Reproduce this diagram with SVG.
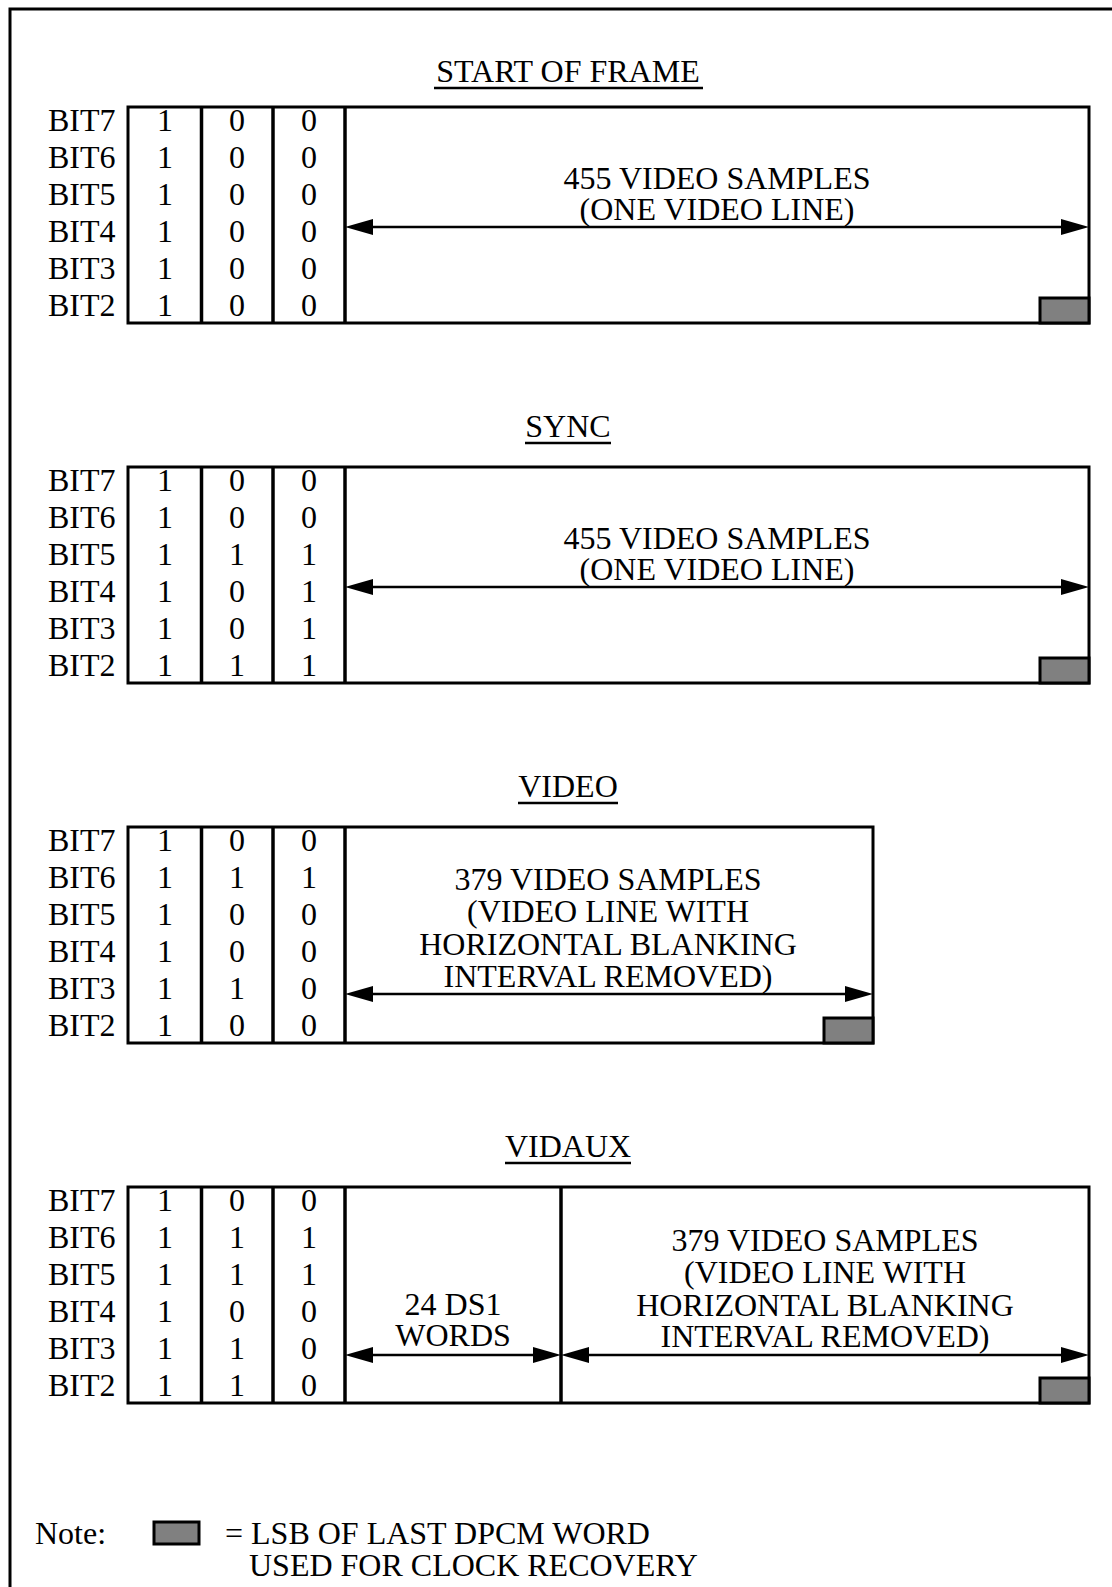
<svg xmlns="http://www.w3.org/2000/svg" width="1112" height="1587" viewBox="0 0 1112 1587">
<style>
text{font-family:"Liberation Serif","Times New Roman",serif;font-size:32px;fill:#000}
.c{text-anchor:middle}
.frame{fill:none;stroke:#000;stroke-width:3}
.sep{stroke:#000;stroke-width:3.5}
.ul{stroke:#000;stroke-width:2.5}
.lsb{fill:#808080;stroke:#000;stroke-width:3}
.arr{stroke:#000;stroke-width:2.5;fill:none;marker-start:url(#ah);marker-end:url(#ah)}
</style>
<defs>
<marker id="ah" markerUnits="userSpaceOnUse" markerWidth="28" markerHeight="16" refX="18" refY="8" orient="auto-start-reverse" viewBox="0 0 28 16"><path d="M0,0 L28,8 L0,16 z" fill="#000"/></marker>
</defs>
<rect width="1112" height="1587" fill="#fff"/>
<path d="M10,1587 V9 H1112" fill="none" stroke="#000" stroke-width="3"/>

<g id="sof">
<text class="c" x="568" y="82">START OF FRAME</text>
<line class="ul" x1="434" y1="88" x2="703" y2="88"/>
<text x="48" y="131">BIT7</text><text x="48" y="168">BIT6</text><text x="48" y="205">BIT5</text><text x="48" y="242">BIT4</text><text x="48" y="279">BIT3</text><text x="48" y="316">BIT2</text>
<rect class="frame" x="128" y="107" width="961" height="216"/>
<line class="sep" x1="201.5" y1="107" x2="201.5" y2="323"/>
<line class="sep" x1="273" y1="107" x2="273" y2="323"/>
<line class="sep" x1="345" y1="107" x2="345" y2="323"/>
<g class="c">
<text x="165" y="131">1</text><text x="237" y="131">0</text><text x="309" y="131">0</text>
<text x="165" y="168">1</text><text x="237" y="168">0</text><text x="309" y="168">0</text>
<text x="165" y="205">1</text><text x="237" y="205">0</text><text x="309" y="205">0</text>
<text x="165" y="242">1</text><text x="237" y="242">0</text><text x="309" y="242">0</text>
<text x="165" y="279">1</text><text x="237" y="279">0</text><text x="309" y="279">0</text>
<text x="165" y="316">1</text><text x="237" y="316">0</text><text x="309" y="316">0</text>
<text x="717" y="189">455 VIDEO SAMPLES</text>
<text x="717" y="220">(ONE VIDEO LINE)</text>
</g>
<rect class="lsb" x="1040" y="298" width="49" height="25"/>
</g>

<g id="sync">
<text class="c" x="568" y="437">SYNC</text>
<line class="ul" x1="525" y1="443" x2="611" y2="443"/>
<text x="48" y="491">BIT7</text><text x="48" y="528">BIT6</text><text x="48" y="565">BIT5</text><text x="48" y="602">BIT4</text><text x="48" y="639">BIT3</text><text x="48" y="676">BIT2</text>
<rect class="frame" x="128" y="467" width="961" height="216"/>
<line class="sep" x1="201.5" y1="467" x2="201.5" y2="683"/>
<line class="sep" x1="273" y1="467" x2="273" y2="683"/>
<line class="sep" x1="345" y1="467" x2="345" y2="683"/>
<g class="c">
<text x="165" y="491">1</text><text x="237" y="491">0</text><text x="309" y="491">0</text>
<text x="165" y="528">1</text><text x="237" y="528">0</text><text x="309" y="528">0</text>
<text x="165" y="565">1</text><text x="237" y="565">1</text><text x="309" y="565">1</text>
<text x="165" y="602">1</text><text x="237" y="602">0</text><text x="309" y="602">1</text>
<text x="165" y="639">1</text><text x="237" y="639">0</text><text x="309" y="639">1</text>
<text x="165" y="676">1</text><text x="237" y="676">1</text><text x="309" y="676">1</text>
<text x="717" y="549">455 VIDEO SAMPLES</text>
<text x="717" y="580">(ONE VIDEO LINE)</text>
</g>
<rect class="lsb" x="1040" y="658" width="49" height="25"/>
</g>

<g id="video">
<text class="c" x="568" y="797">VIDEO</text>
<line class="ul" x1="518" y1="803" x2="618" y2="803"/>
<text x="48" y="851">BIT7</text><text x="48" y="888">BIT6</text><text x="48" y="925">BIT5</text><text x="48" y="962">BIT4</text><text x="48" y="999">BIT3</text><text x="48" y="1036">BIT2</text>
<rect class="frame" x="128" y="827" width="745" height="216"/>
<line class="sep" x1="201.5" y1="827" x2="201.5" y2="1043"/>
<line class="sep" x1="273" y1="827" x2="273" y2="1043"/>
<line class="sep" x1="345" y1="827" x2="345" y2="1043"/>
<g class="c">
<text x="165" y="851">1</text><text x="237" y="851">0</text><text x="309" y="851">0</text>
<text x="165" y="888">1</text><text x="237" y="888">1</text><text x="309" y="888">1</text>
<text x="165" y="925">1</text><text x="237" y="925">0</text><text x="309" y="925">0</text>
<text x="165" y="962">1</text><text x="237" y="962">0</text><text x="309" y="962">0</text>
<text x="165" y="999">1</text><text x="237" y="999">1</text><text x="309" y="999">0</text>
<text x="165" y="1036">1</text><text x="237" y="1036">0</text><text x="309" y="1036">0</text>
<text x="608" y="890">379 VIDEO SAMPLES</text>
<text x="608" y="922">(VIDEO LINE WITH</text>
<text x="608" y="955">HORIZONTAL BLANKING</text>
<text x="608" y="987">INTERVAL REMOVED)</text>
</g>
<rect class="lsb" x="824" y="1018" width="49" height="25"/>
</g>

<g id="vidaux">
<text class="c" x="568" y="1157">VIDAUX</text>
<line class="ul" x1="505" y1="1163" x2="631" y2="1163"/>
<text x="48" y="1211">BIT7</text><text x="48" y="1248">BIT6</text><text x="48" y="1285">BIT5</text><text x="48" y="1322">BIT4</text><text x="48" y="1359">BIT3</text><text x="48" y="1396">BIT2</text>
<rect class="frame" x="128" y="1187" width="961" height="216"/>
<line class="sep" x1="201.5" y1="1187" x2="201.5" y2="1403"/>
<line class="sep" x1="273" y1="1187" x2="273" y2="1403"/>
<line class="sep" x1="345" y1="1187" x2="345" y2="1403"/>
<line class="sep" x1="561" y1="1187" x2="561" y2="1403"/>
<g class="c">
<text x="165" y="1211">1</text><text x="237" y="1211">0</text><text x="309" y="1211">0</text>
<text x="165" y="1248">1</text><text x="237" y="1248">1</text><text x="309" y="1248">1</text>
<text x="165" y="1285">1</text><text x="237" y="1285">1</text><text x="309" y="1285">1</text>
<text x="165" y="1322">1</text><text x="237" y="1322">0</text><text x="309" y="1322">0</text>
<text x="165" y="1359">1</text><text x="237" y="1359">1</text><text x="309" y="1359">0</text>
<text x="165" y="1396">1</text><text x="237" y="1396">1</text><text x="309" y="1396">0</text>
<text x="453" y="1315">24 DS1</text>
<text x="453" y="1346">WORDS</text>
<text x="825" y="1251">379 VIDEO SAMPLES</text>
<text x="825" y="1283">(VIDEO LINE WITH</text>
<text x="825" y="1316">HORIZONTAL BLANKING</text>
<text x="825" y="1347">INTERVAL REMOVED)</text>
</g>
<rect class="lsb" x="1040" y="1378" width="49" height="25"/>
</g>

<g id="note">
<text x="35" y="1544">Note:</text>
<rect class="lsb" x="154" y="1522" width="45" height="22"/>
<text x="225" y="1544">= LSB OF LAST DPCM WORD</text>
<text x="249" y="1576">USED FOR CLOCK RECOVERY</text>
</g>

<g id="connectors">
<line class="arr" x1="355" y1="227" x2="1079" y2="227"/>
<line class="arr" x1="355" y1="587" x2="1079" y2="587"/>
<line class="arr" x1="355" y1="994" x2="863" y2="994"/>
<line class="arr" x1="355" y1="1355" x2="551" y2="1355"/>
<line class="arr" x1="571" y1="1355" x2="1079" y2="1355"/>
</g>
</svg>
